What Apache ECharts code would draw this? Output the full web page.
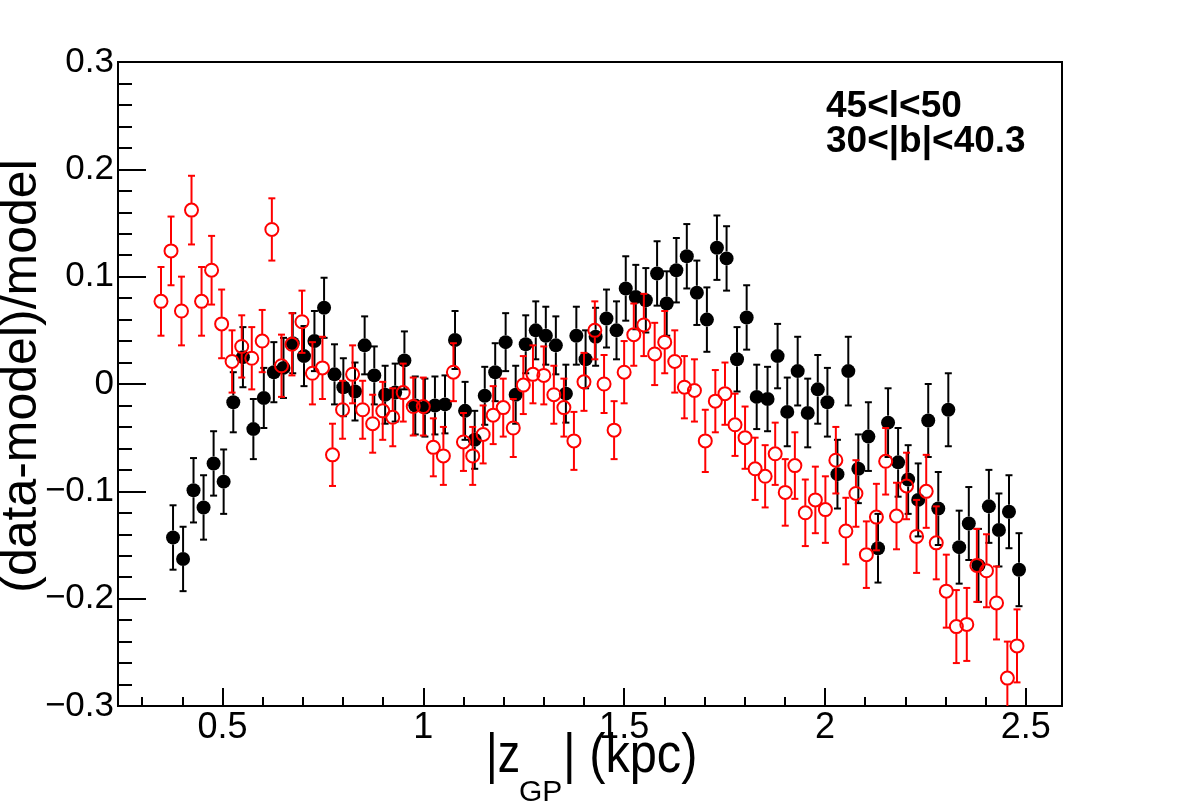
<!DOCTYPE html>
<html><head><meta charset="utf-8">
<script src="https://cdn.jsdelivr.net/npm/echarts@6/dist/echarts.min.js"></script>
<style>html,body{margin:0;padding:0;background:#fff}#c{width:1182px;height:805px}</style>
</head><body><div id="c"></div>
<script>
// ---- data ----
const redX = [0.347,0.372,0.398,0.423,0.448,0.473,0.498,0.524,0.548,0.573,0.599,0.623,0.647,0.673,0.698,0.724,0.749,0.774,0.799,0.824,0.849,0.874,0.899,0.924,0.950,0.975,1.000,1.025,1.050,1.075,1.100,1.123,1.149,1.174,1.199,1.224,1.249,1.273,1.300,1.325,1.350,1.375,1.400,1.427,1.450,1.475,1.500,1.524,1.549,1.576,1.601,1.626,1.650,1.675,1.702,1.727,1.751,1.776,1.801,1.826,1.851,1.876,1.901,1.925,1.951,1.976,2.001,2.027,2.052,2.077,2.103,2.128,2.151,2.178,2.203,2.228,2.252,2.277,2.302,2.327,2.353,2.378,2.402,2.427,2.454,2.478];
const redY = [0.077,0.124,0.068,0.162,0.077,0.106,0.056,0.021,0.035,0.024,0.040,0.144,0.017,0.037,0.058,0.010,0.015,-0.066,-0.024,0.009,-0.024,-0.037,-0.025,-0.031,-0.008,-0.021,-0.021,-0.059,-0.067,0.011,-0.054,-0.067,-0.047,-0.029,-0.022,-0.041,-0.001,0.009,0.008,-0.010,-0.022,-0.053,0.002,0.050,0.000,-0.043,0.011,0.046,0.055,0.028,0.039,0.021,-0.003,-0.006,-0.053,-0.016,-0.009,-0.038,-0.050,-0.079,-0.086,-0.065,-0.101,-0.076,-0.120,-0.108,-0.117,-0.071,-0.137,-0.102,-0.159,-0.124,-0.072,-0.123,-0.095,-0.142,-0.100,-0.148,-0.193,-0.226,-0.224,-0.169,-0.174,-0.204,-0.274,-0.244];
const redErr = [0.032,0.032,0.032,0.032,0.032,0.032,0.032,
  0.029,0.029,0.029,0.029,0.029,0.029,0.029,0.029,0.029,0.029,0.029,
  0.027,0.027,0.027,0.027,0.027,0.027,0.027,0.027,0.027,0.027,0.027,0.027,0.027,0.027,0.027,0.027,0.027,0.027,0.027,0.027,0.027,0.027,0.027,0.027,0.027,0.027,0.027,0.027,
  0.029,0.029,0.029,0.029,0.029,0.029,0.029,0.029,0.029,0.029,0.029,0.029,0.029,0.029,0.029,0.029,
  0.031,0.031,0.031,0.031,0.031,0.031,0.031,0.031,0.031,0.031,0.031,0.031,0.031,
  0.034,0.034,0.034,0.034,0.034,0.034,0.034,0.034,0.034,0.034,0.034];
const blackX = [0.377,0.402,0.428,0.453,0.478,0.503,0.527,0.551,0.577,0.603,0.628,0.652,0.675,0.703,0.729,0.753,0.779,0.801,0.830,0.854,0.878,0.905,0.930,0.953,0.980,1.004,1.029,1.054,1.079,1.104,1.128,1.153,1.179,1.205,1.230,1.255,1.280,1.305,1.330,1.355,1.381,1.404,1.429,1.456,1.481,1.504,1.529,1.554,1.582,1.606,1.630,1.656,1.681,1.706,1.731,1.755,1.781,1.805,1.830,1.857,1.882,1.906,1.932,1.957,1.982,2.006,2.031,2.058,2.083,2.108,2.132,2.157,2.182,2.207,2.232,2.257,2.282,2.307,2.334,2.358,2.382,2.408,2.433,2.458,2.483];
const blackY = [-0.143,-0.163,-0.099,-0.115,-0.074,-0.091,-0.017,0.025,-0.042,-0.013,0.011,0.015,0.038,0.026,0.040,0.071,0.009,-0.003,-0.007,0.036,0.008,-0.010,-0.008,0.022,-0.020,-0.022,-0.020,-0.019,0.041,-0.025,-0.052,-0.011,0.011,0.039,-0.010,0.037,0.050,0.045,0.036,-0.009,0.045,0.023,0.044,0.061,0.050,0.089,0.081,0.078,0.103,0.075,0.106,0.119,0.085,0.060,0.127,0.117,0.023,0.062,-0.012,-0.014,0.026,-0.026,0.012,-0.027,-0.005,-0.017,-0.084,0.012,-0.079,-0.049,-0.153,-0.036,-0.073,-0.089,-0.108,-0.034,-0.116,-0.024,-0.152,-0.130,-0.169,-0.114,-0.136,-0.119,-0.173];
const blackErr = [0.030,0.030,0.030,0.030,0.030,0.030,
  0.028,0.028,0.028,0.028,0.028,0.028,0.028,0.028,0.028,0.028,0.028,
  0.027,0.027,0.027,0.027,0.027,0.027,0.027,0.027,0.027,0.027,0.027,0.027,0.027,0.027,0.027,0.027,0.027,0.027,0.027,0.027,0.027,0.027,0.027,0.027,0.027,0.027,0.027,0.027,
  0.030,0.030,0.030,0.030,0.030,0.030,0.030,0.030,0.030,0.030,0.030,0.030,0.030,0.030,0.030,0.030,
  0.032,0.032,0.032,0.032,0.032,0.032,0.032,0.032,0.032,0.032,0.032,0.032,0.032,
  0.034,0.034,0.034,0.034,0.034,0.034,0.034,0.034,0.034,0.034,0.034];
const xTickLabels = ['0.5','1','1.5','2','2.5'];
const yTickLabels = ['-0.3','-0.2','-0.1','0','0.1','0.2','0.3'];
const annotation = ['45<l<50', '30<|b|<40.3'];
const yTitle = '(data-model)/model';

// ---- chart ----
const FONT = '"Liberation Sans", Arial, Helvetica, sans-serif';
function rows(xs, ys, es) { return xs.map((x, i) => [x, ys[i], es[i]]); }
function makeRender(color, r) {
  return function (params, api) {
    const x = api.value(0), y = api.value(1), e = api.value(2);
    const c = api.coord([x, y]);
    const t = api.coord([x, y + e]);
    const b = api.coord([x, y - e]);
    const cs = params.coordSys;
    const yTop = cs.y, yBot = cs.y + cs.height;
    const st = { stroke: color, lineWidth: 2, fill: null };
    const cap = 3.5;
    const ch = [];
    const uEnd = Math.max(t[1], yTop), uStart = Math.min(c[1] - r, yBot);
    if (uEnd < uStart) ch.push({ type: 'line', shape: { x1: c[0], y1: uStart, x2: c[0], y2: uEnd }, style: st });
    if (t[1] >= yTop && t[1] <= yBot && t[1] < c[1] - r) ch.push({ type: 'line', shape: { x1: c[0] - cap, y1: t[1], x2: c[0] + cap, y2: t[1] }, style: st });
    const lStart = Math.max(c[1] + r, yTop), lEnd = Math.min(b[1], yBot);
    if (lEnd > lStart) ch.push({ type: 'line', shape: { x1: c[0], y1: lStart, x2: c[0], y2: lEnd }, style: st });
    if (b[1] <= yBot && b[1] >= yTop && b[1] > c[1] + r) ch.push({ type: 'line', shape: { x1: c[0] - cap, y1: b[1], x2: c[0] + cap, y2: b[1] }, style: st });
    return { type: 'group', children: ch };
  };
}
function fmt(v, list) {
  const s = String(Math.round(v * 10) / 10);
  return list.indexOf(s) >= 0 ? s.replace('-', '\u2212') : '';
}
const chart = echarts.init(document.getElementById('c'), null, { renderer: 'canvas' });
chart.setOption({
  animation: false,
  backgroundColor: '#fff',
  grid: { left: 118, top: 62, right: 120, bottom: 99, show: true, borderColor: '#000', borderWidth: 2, backgroundColor: 'transparent' },
  xAxis: {
    type: 'value', min: 0.24, max: 2.59,
    axisLine: { show: true, onZero: false, lineStyle: { color: '#000', width: 2 } },
    axisTick: { show: true, inside: true, length: 18, lineStyle: { color: '#000', width: 2 } },
    minorTick: { show: true, splitNumber: 5, length: 9, lineStyle: { color: '#000', width: 2 } },
    splitLine: { show: false }, minorSplitLine: { show: false },
    axisLabel: { show: true, margin: 4, fontSize: 36, fontFamily: FONT, color: '#000', showMinLabel: true, showMaxLabel: true,
      formatter: v => fmt(v, xTickLabels) }
  },
  yAxis: {
    type: 'value', min: -0.3, max: 0.3, interval: 0.1,
    axisLine: { show: true, onZero: false, lineStyle: { color: '#000', width: 2 } },
    axisTick: { show: true, inside: true, length: 28, lineStyle: { color: '#000', width: 2 } },
    minorTick: { show: true, splitNumber: 5, length: 14, lineStyle: { color: '#000', width: 2 } },
    splitLine: { show: false }, minorSplitLine: { show: false },
    axisLabel: { show: true, margin: 4, fontSize: 35, fontFamily: FONT, color: '#000',
      formatter: v => fmt(v, yTickLabels) }
  },
  graphic: [
    { type: 'text', x: 826, y: 120 - 0.3465 * 37, silent: true,
      style: { text: annotation[0], font: 'bold 37px ' + FONT, fill: '#000', align: 'left', verticalAlign: 'middle' } },
    { type: 'text', x: 826, y: 155 - 0.3465 * 37, silent: true,
      style: { text: annotation[1], font: 'bold 37px ' + FONT, fill: '#000', align: 'left', verticalAlign: 'middle' } },
    { type: 'text', x: 39.5 - 0.3465 * 50, y: 376, rotation: Math.PI / 2, silent: true,
      style: { text: yTitle, font: '50px ' + FONT, fill: '#000', align: 'center', verticalAlign: 'middle' } },
    { type: 'text', x: 486, y: 776 - 0.3465 * 56, scaleX: 0.8, silent: true,
      style: { text: '|z', font: '56px ' + FONT, fill: '#000', align: 'left', verticalAlign: 'middle' } },
    { type: 'text', x: 519, y: 803 - 0.3465 * 30, silent: true,
      style: { text: 'GP', font: '30px ' + FONT, fill: '#000', align: 'left', verticalAlign: 'middle' } },
    { type: 'text', x: 563, y: 776 - 0.3465 * 56, scaleX: 0.87, silent: true,
      style: { text: '| (kpc)', font: '56px ' + FONT, fill: '#000', align: 'left', verticalAlign: 'middle' } }
  ],
  series: [
    { type: 'custom', name: 'black err', renderItem: makeRender('#000', 7), data: rows(blackX, blackY, blackErr),
      encode: { x: 0, y: 1 }, silent: true, z: 2 },
    { type: 'scatter', name: 'black', data: blackX.map((x, i) => [x, blackY[i]]), symbol: 'circle', symbolSize: 14,
      itemStyle: { color: '#000', opacity: 1 }, silent: true, z: 3 },
    { type: 'custom', name: 'red err', renderItem: makeRender('#ff0000', 7), data: rows(redX, redY, redErr),
      encode: { x: 0, y: 1 }, silent: true, z: 4 },
    { type: 'scatter', name: 'red', data: redX.map((x, i) => [x, redY[i]]), symbol: 'circle', symbolSize: 13,
      itemStyle: { color: 'rgba(255,255,255,0)', borderColor: '#ff0000', borderWidth: 2, opacity: 1 }, silent: true, z: 5 }
  ]
});
</script></body></html>
